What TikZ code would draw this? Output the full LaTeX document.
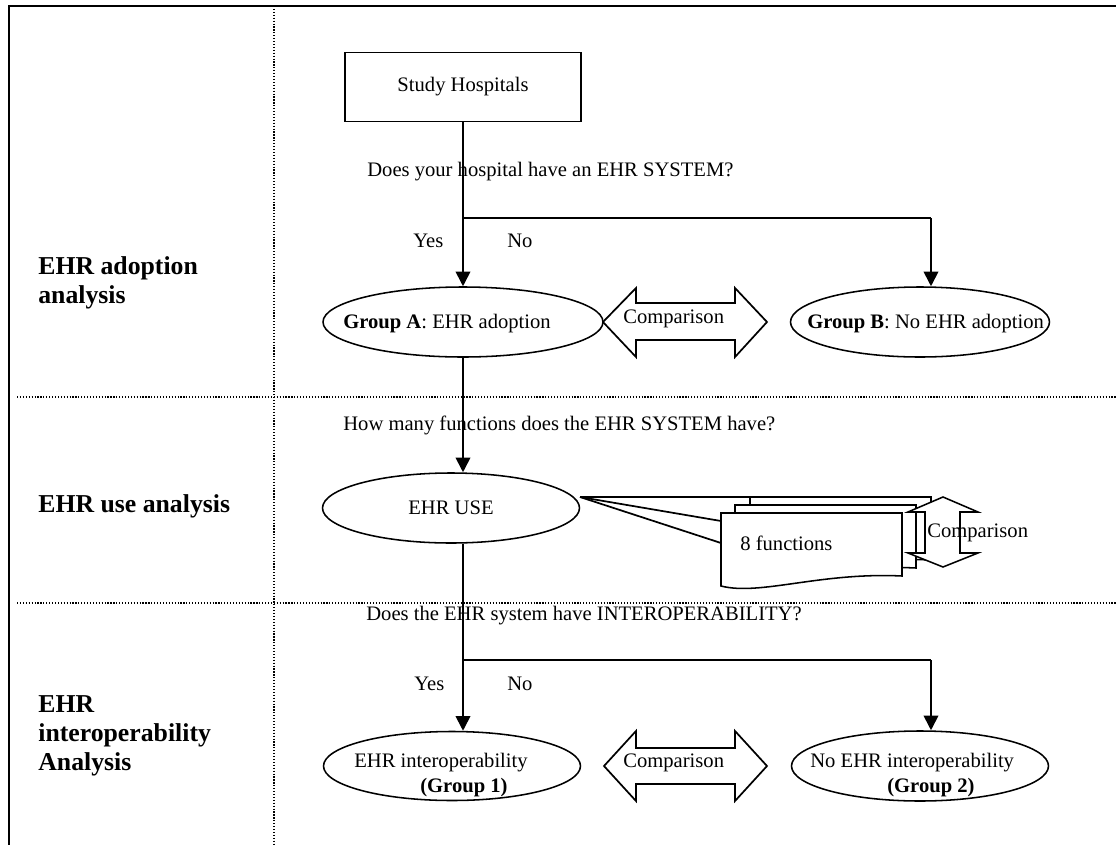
\documentclass[tikz,border=0pt]{standalone}
\usepackage{fontspec}
\setmainfont{Liberation Serif}
\usetikzlibrary{shapes.geometric,arrows.meta}
\newcommand{\pxu}{0.5825pt}

\begin{document}
\begin{tikzpicture}[x=0.5825pt,y=-0.5825pt,font=\fontsize{12}{14.5}\selectfont,
    frame/.style={line width=1.2pt},
    sep/.style={line width=0.7pt,dash pattern=on 0.7pt off 1pt},
    wire/.style={line width=1pt},
    flow/.style={wire,-{Triangle[length=8.5pt,width=8.5pt]}},
    ell/.style={draw,shape=ellipse,line width=0.9pt,inner sep=0pt,minimum height=70*\pxu},
    lbl/.style={inner sep=0pt,anchor=base west},
    side/.style={inner sep=0pt,align=left,font=\bfseries\fontsize{15}{17}\selectfont},
    outline/.style={line width=0.9pt,fill=white,line join=miter}]

    \useasboundingbox (0,0) rectangle (1116,845);

    % table
    \draw[frame] (9,845) -- (9,6) -- (1116,6);
    \draw[sep] (274,6) -- (274,845);
    \draw[sep] (17,397) -- (1116,397);
    \draw[sep] (17,603) -- (1116,603);

    \node[side,anchor=west] (rowA) at (38,283) {EHR adoption\\analysis};
    \node[side,anchor=base west] (rowB) at (38,512) {EHR use analysis};
    \node[side,anchor=west] (rowC) at (38,736) {EHR\\interoperability\\Analysis};

    % adoption
    \coordinate (spine) at (463,0);
    \node[draw,line width=0.9pt,minimum width=236*\pxu,minimum height=69*\pxu] (hosp) at (463,87) {Study Hospitals};
    \node[lbl] (q1) at (367,176) {Does your hospital have an EHR SYSTEM?};
    \coordinate (fork1) at (463,218);
    \coordinate (turn1) at (931,218);
    \node[lbl] (yes1) at (413,247) {Yes};
    \node[lbl] (no1) at (507,247) {No};

    \node[ell,minimum width=280*\pxu] (grpA) at (463,322) {};
    \node[lbl] (grpAt) at (343,328) {\textbf{Group A}: EHR adoption};
    \node[ell,minimum width=259*\pxu] (grpB) at (920,322) {};
    \node[lbl] (grpBt) at (807,328) {\textbf{Group B}: No EHR adoption};

    \draw[flow] (hosp.south) -- (grpA.north);
    \draw[wire] (fork1) -- (turn1);
    \draw[flow] (turn1) -- (grpB.north -| turn1);

    \draw[wire] (603,322) -- (636,288) -- (636,303) -- (735,303) -- (735,288) -- (767,322)
        -- (735,357) -- (735,340) -- (636,340) -- (636,357) -- cycle;
    \node[lbl] (cmpA) at (623,323) {Comparison};

    % use
    \node[lbl] (q2) at (343,430) {How many functions does the EHR SYSTEM have?};
    \node[ell,minimum width=257*\pxu] (ehruse) at (451,508) {EHR USE};
    \draw[flow] (grpA.south) -- (ehruse.north -| spine);

    \coordinate (fan) at (580,497);
    \draw[outline,shift={(29,-16)}] (721,513) -- (902,513) -- (902,576)
        .. controls (820,572) and (760,596) .. (721,586) -- cycle;
    \draw[outline,shift={(14,-8)}] (721,513) -- (902,513) -- (902,576)
        .. controls (820,572) and (760,596) .. (721,586) -- cycle;
    \draw[wire] (fan) -- (750,497);
    \draw[wire] (fan) -- (721,521);
    \draw[wire] (fan) -- (721,543);
    \draw[outline] (721,513) -- (902,513) -- (902,576)
        .. controls (820,572) and (760,596) .. (721,586) -- cycle;
    \node[lbl] (funcs) at (740,550) {8 functions};

    \draw[outline] (943,497) -- (978,512) -- (960,512) -- (960,553) -- (978,553) -- (943,567)
        -- (908,553) -- (925,553) -- (925,512) -- (908,512) -- cycle;
    \node[lbl] (cmpB) at (927,537) {Comparison};

    % interoperability
    \node[lbl] (q3) at (366,620) {Does the EHR system have INTEROPERABILITY?};
    \coordinate (fork2) at (463,660);
    \coordinate (turn2) at (931,660);
    \node[lbl] (yes2) at (414,690) {Yes};
    \node[lbl] (no2) at (507,690) {No};

    \node[ell,minimum width=257*\pxu,minimum height=69*\pxu] (grp1) at (452,766) {};
    \node[lbl] (grp1t) at (354,767) {EHR interoperability};
    \node[lbl] (grp1n) at (420,792) {\textbf{(Group 1)}};
    \node[ell,minimum width=257*\pxu] (grp2) at (920,766) {};
    \node[lbl] (grp2t) at (810,767) {No EHR interoperability};
    \node[lbl] (grp2n) at (887,792) {\textbf{(Group 2)}};

    \draw[flow] (ehruse.south -| spine) -- (grp1.north -| spine);
    \draw[wire] (fork2) -- (turn2);
    \draw[flow] (turn2) -- (grp2.north -| turn2);

    \draw[wire] (604,766) -- (636,731) -- (636,748) -- (735,748) -- (735,731) -- (767,766)
        -- (735,801) -- (735,784) -- (636,784) -- (636,801) -- cycle;
    \node[lbl] (cmpC) at (623,767) {Comparison};
\end{tikzpicture}
\end{document}
